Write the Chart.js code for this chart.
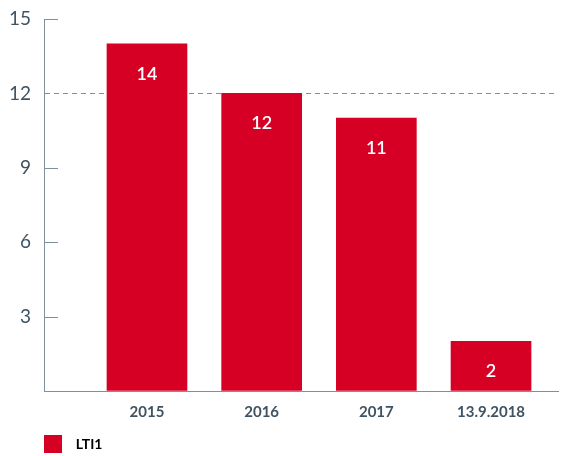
<!DOCTYPE html>
<html>
<head>
<meta charset="utf-8">
<script src="https://cdn.jsdelivr.net/npm/chart.js@4/dist/chart.umd.min.js"></script>
<style>
  html, body { margin: 0; padding: 0; background: #fff; overflow: hidden; }
  #wrap { position: relative; width: 561px; height: 463px; }
</style>
</head>
<body>
<div id="wrap"><canvas id="lti-chart"></canvas></div>
<script>
// values
var categories = ["2015", "2016", "2017", "13.9.2018"];
var lti1 = [14, 12, 11, 2];
var yTicks = [3, 6, 9, 12, 15];

var red = "#d50024";
var axisGray = "#7f909b";
var textColor = "#3f5362";

// short tick marks drawn inward from the y axis
var innerTicks = {
    id: "innerTicks",
    afterDraw: function (chart) {
        var y = chart.scales.y, area = chart.chartArea, ctx = chart.ctx;
        ctx.save();
        ctx.strokeStyle = axisGray;
        ctx.lineWidth = 1;
        yTicks.forEach(function (v) {
            if (v === 12) return;
            var py = Math.round(y.getPixelForValue(v)) + 0.5;
            ctx.beginPath();
            ctx.moveTo(area.left, py);
            ctx.lineTo(area.left + 14, py);
            ctx.stroke();
        });
        ctx.restore();
    }
};

// white numbers inside the bars
var barValues = {
    id: "barValues",
    afterDatasetsDraw: function (chart) {
        var ctx = chart.ctx;
        var meta = chart.getDatasetMeta(0);
        ctx.save();
        ctx.fillStyle = "#fff";
        ctx.font = "600 18px Lato";
        ctx.textAlign = "center";
        ctx.textBaseline = "middle";
        meta.data.forEach(function (bar, i) {
            ctx.fillText(String(lti1[i]), bar.x, bar.y + 30);
        });
        ctx.restore();
    }
};

var ctx = document.getElementById("lti-chart");

var chart = new Chart(ctx, {
    type: "bar",
    data: {
        datasets: [{
            label: "LTI1",
            data: categories.map(function (c, i) { return { x: i + 1, y: lti1[i] }; }),
            backgroundColor: red,
            borderWidth: 0,
            barThickness: 80
        }]
    },
    options: {
        responsive: true,
        maintainAspectRatio: false,
        animation: false,
        layout: { padding: { left: 0, top: 19, right: 3, bottom: 0 } },
        plugins: {
            tooltip: { enabled: false },
            legend: {
                position: "bottom",
                align: "start",
                fullSize: false,
                labels: {
                    boxWidth: 18,
                    boxHeight: 18,
                    padding: 0,
                    color: textColor,
                    font: { family: "Lato", size: 14, weight: "bold" },
                    generateLabels: function (chart) {
                        return [{
                            text: "  LTI1",
                            fillStyle: red,
                            strokeStyle: red,
                            lineWidth: 0,
                            datasetIndex: 0
                        }];
                    }
                }
            }
        },
        scales: {
            x: {
                type: "linear",
                offset: false,
                min: 0.102,
                max: 4.584,
                afterFit: function (scale) { scale.height = 44; },
                grid: { display: false, drawTicks: false },
                border: { display: true, color: axisGray, width: 1 },
                ticks: {
                    stepSize: 1,
                    includeBounds: false,
                    padding: 12,
                    color: textColor,
                    font: { family: "Lato", size: 15, weight: "bold" },
                    callback: function (v) {
                        return categories[v - 1] !== undefined ? categories[v - 1] : "";
                    }
                }
            },
            y: {
                min: 0,
                max: 15,
                afterFit: function (scale) { scale.width = 44; },
                grid: {
                    drawTicks: false,
                    lineWidth: 1,
                    color: function (c) { return c.tick && c.tick.value === 12 ? axisGray : "rgba(0,0,0,0)"; }
                },
                border: { display: true, color: axisGray, width: 1, dash: [5, 4] },
                ticks: {
                    stepSize: 3,
                    padding: 13,
                    color: textColor,
                    font: { family: "Lato", size: 19, lineHeight: 0.5 },
                    callback: function (v) { return v === 0 ? "" : v; }
                }
            }
        }
    },
    plugins: [innerTicks, barValues]
});
</script>
</body>
</html>
